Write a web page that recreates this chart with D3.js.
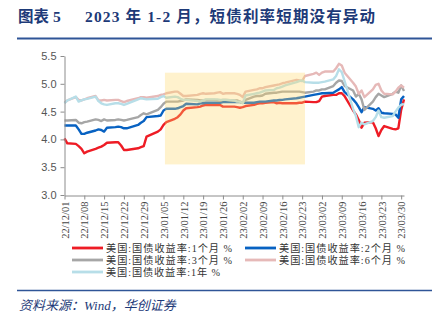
<!DOCTYPE html>
<html>
<head>
<meta charset="utf-8">
<script src="https://cdn.jsdelivr.net/npm/d3@7/dist/d3.min.js"></script>
<style>
  html, body { margin: 0; padding: 0; background: #fff; }
  svg { display: block; }
</style>
</head>
<body>
<svg id="chart" width="438" height="323"></svg>
<script>
// US Treasury yields (%), trading days 2022-12-01 .. 2023-03-31
const dates = [
  "2022-12-01","2022-12-02","2022-12-05","2022-12-06","2022-12-07","2022-12-08","2022-12-09",
  "2022-12-12","2022-12-13","2022-12-14","2022-12-15","2022-12-16","2022-12-19","2022-12-20",
  "2022-12-21","2022-12-22","2022-12-23","2022-12-27","2022-12-28","2022-12-29","2022-12-30",
  "2023-01-03","2023-01-04","2023-01-05","2023-01-06","2023-01-09","2023-01-10","2023-01-11",
  "2023-01-12","2023-01-13","2023-01-17","2023-01-18","2023-01-19","2023-01-20","2023-01-23",
  "2023-01-24","2023-01-25","2023-01-26","2023-01-27","2023-01-30","2023-01-31",
  "2023-02-01","2023-02-02","2023-02-03","2023-02-06","2023-02-07","2023-02-08","2023-02-09",
  "2023-02-10","2023-02-13","2023-02-14","2023-02-15","2023-02-16","2023-02-17","2023-02-21",
  "2023-02-22","2023-02-23","2023-02-24","2023-02-27","2023-02-28",
  "2023-03-01","2023-03-02","2023-03-03","2023-03-06","2023-03-07","2023-03-08","2023-03-09",
  "2023-03-10","2023-03-13","2023-03-14","2023-03-15","2023-03-16","2023-03-17","2023-03-20",
  "2023-03-21","2023-03-22","2023-03-23","2023-03-24","2023-03-27","2023-03-28","2023-03-29",
  "2023-03-30","2023-03-31"
];

const yield1M = [
  4.02,3.93,3.92,3.88,3.83,3.75,3.78, 3.83,3.85,3.87,3.90,3.94,3.95,3.95,
  3.89,3.81,3.81,3.84,3.86,3.88,4.05,
  4.14,4.18,4.26,4.31,4.37,4.40,4.45, 4.52,4.56,4.58,4.59,4.61,4.62,4.62,
  4.62,4.62,4.59,4.59,4.59,4.58,
  4.57,4.58,4.60,4.62,4.64,4.65,4.65, 4.66,4.67,4.65,4.66,4.65,4.65,4.65,
  4.66,4.66,4.68,4.67,4.67,
  4.69,4.77,4.78,4.80,4.80,4.83,4.83, 4.78,4.52,4.45,4.35,4.21,4.30,4.31,
  4.20,4.06,4.17,4.24,4.19,4.18,4.20, 4.53,4.72
];

const yield2M = [
  4.25,4.25,4.25,4.18,4.10,4.10,4.12, 4.16,4.18,4.17,4.14,4.21,4.22,4.23,
  4.22,4.20,4.20,4.26,4.30,4.33,4.40,
  4.42,4.43,4.52,4.55,4.55,4.56,4.58, 4.60,4.64,4.63,4.65,4.65,4.66,4.66,
  4.66,4.66,4.67,4.67,4.67,4.67,
  4.67,4.66,4.66,4.66,4.67,4.68,4.68, 4.68,4.70,4.70,4.71,4.71,4.72,4.74,
  4.75,4.76,4.77,4.80,4.81,
  4.82,4.83,4.83,4.84,4.87,4.90,4.94, 4.85,4.72,4.66,4.58,4.49,4.58,4.55,
  4.52,4.56,4.48,4.47,4.46,4.45,4.39, 4.72,4.78
];

const yield3M = [
  4.34,4.34,4.35,4.30,4.29,4.31,4.32, 4.36,4.35,4.33,4.36,4.34,4.35,4.36,
  4.35,4.34,4.35,4.40,4.44,4.47,4.45,
  4.53,4.58,4.64,4.68,4.68,4.68,4.69, 4.70,4.72,4.71,4.70,4.70,4.71,4.71,
  4.70,4.70,4.71,4.71,4.70,4.70,
  4.68,4.66,4.71,4.77,4.78,4.78,4.79, 4.82,4.84,4.84,4.85,4.86,4.86,4.86,
  4.86,4.85,4.84,4.86,4.88,
  4.88,4.90,4.90,4.96,5.02,5.06,5.05, 4.96,4.88,4.77,4.82,4.72,4.53,4.68,
  4.76,4.82,4.79,4.76,4.82,4.86,4.84, 4.97,4.87
];

const yield6M = [
  4.66,4.70,4.76,4.71,4.70,4.72,4.74, 4.78,4.70,4.70,4.71,4.70,4.71,4.71,
  4.69,4.67,4.69,4.74,4.76,4.76,4.75,
  4.78,4.80,4.81,4.83,4.86,4.86,4.82, 4.78,4.78,4.80,4.82,4.83,4.82,4.83,
  4.84,4.85,4.82,4.83,4.83,4.82,
  4.80,4.76,4.86,4.89,4.90,4.92,4.92, 4.94,4.97,4.98,4.99,5.01,5.02,5.07,
  5.06,5.05,5.14,5.18,5.20,
  5.16,5.20,5.22,5.22,5.28,5.36,5.33, 5.20,5.02,4.95,4.82,4.88,4.76,4.90,
  4.98,5.00,4.88,4.82,4.81,4.86,4.93, 4.97,4.93
];

const yield1Y = [
  4.65,4.70,4.77,4.68,4.70,4.72,4.73, 4.77,4.69,4.65,4.63,4.62,4.65,4.65,
  4.64,4.62,4.64,4.72,4.74,4.73,4.72,
  4.73,4.76,4.78,4.75,4.77,4.76,4.73, 4.71,4.71,4.69,4.68,4.70,4.72,4.72,
  4.72,4.71,4.71,4.71,4.70,4.68,
  4.68,4.65,4.79,4.82,4.83,4.84,4.86, 4.88,4.89,4.92,4.93,4.95,4.97,5.03,
  5.05,5.06,5.03,5.02,5.02,
  5.02,5.03,5.04,5.08,5.14,5.26,5.21, 5.05,4.55,4.42,4.22,4.30,4.27,4.33,
  4.40,4.52,4.40,4.39,4.42,4.50,4.57, 4.62,4.64
];

const seriesNames = [
  "美国:国债收益率:1个月 %",
  "美国:国债收益率:2个月 %",
  "美国:国债收益率:3个月 %",
  "美国:国债收益率:6个月 %",
  "美国:国债收益率:1年 %"
];
const seriesColors = ["#ee1c25", "#0862c2", "#a6a6a6", "#e6b9b8", "#b7dee8"];

const xTickDates = [
  "2022-12-01","2022-12-08","2022-12-15","2022-12-22","2022-12-29","2023-01-05",
  "2023-01-12","2023-01-19","2023-01-26","2023-02-02","2023-02-09","2023-02-16",
  "2023-02-23","2023-03-02","2023-03-09","2023-03-16","2023-03-23","2023-03-30"
];
const yTicks = [3.0, 3.5, 4.0, 4.5, 5.0, 5.5];

// highlighted window: early Jan to late Feb
const highlightX = ["2023-01-05T12:00", "2023-02-24"];
const highlightY = [3.55, 5.2];

const titleLead = "图表 5";
const titleMain = "2023 年 1-2 月，短债利率短期没有异动";
const sourceText = "资料来源：Wind，华创证券";

// ---------------------------------------------------------------
const parse = d3.isoParse;
const svg = d3.select("#chart");
const navy = "#1d3a78";

const x = d3.scaleTime()
  .domain([parse("2022-12-01"), parse("2023-03-31")])
  .range([64.5, 404]);
const y = d3.scaleLinear().domain([3, 5.5]).range([195, 56]);

// title + rules
svg.append("text").attr("x", 18).attr("y", 22)
  .attr("font-family", "'Liberation Serif','Noto Sans CJK SC',serif")
  .attr("font-weight", "bold").attr("font-size", 15.5).attr("fill", navy)
  .text(titleLead);
svg.append("text").attr("x", 85).attr("y", 22)
  .attr("font-family", "'Liberation Serif','Noto Sans CJK SC',serif")
  .attr("font-weight", "bold").attr("font-size", 15.5).attr("fill", navy)
  .attr("textLength", 290).attr("lengthAdjust", "spacing")
  .text(titleMain);
svg.append("line").attr("x1", 17).attr("x2", 432).attr("y1", 38.5).attr("y2", 38.5)
  .attr("stroke", "#2f5597").attr("stroke-width", 2.2);
svg.append("line").attr("x1", 17).attr("x2", 432).attr("y1", 290.5).attr("y2", 290.5)
  .attr("stroke", "#2f5597").attr("stroke-width", 1.6);
svg.append("text").attr("x", 19).attr("y", 310)
  .attr("font-family", "'Liberation Serif','Noto Sans CJK SC',serif")
  .attr("font-style", "italic").attr("font-size", 13).attr("fill", navy)
  .text(sourceText);

// lines
const line = d3.line()
  .x(d => x(d.date))
  .y(d => y(d.value));

const allSeries = [yield1M, yield2M, yield3M, yield6M, yield1Y];
const plot = svg.append("g");
allSeries.forEach((vals, i) => {
  const pts = dates.map((d, k) => ({ date: parse(d), value: vals[k] }));
  plot.append("path")
    .datum(pts)
    .attr("fill", "none")
    .attr("stroke", seriesColors[i])
    .attr("stroke-width", 2.4)
    .attr("stroke-linejoin", "round")
    .attr("d", line);
});

// translucent highlight box over the lines
svg.append("rect")
  .attr("x", x(parse(highlightX[0])))
  .attr("width", x(parse(highlightX[1])) - x(parse(highlightX[0])))
  .attr("y", y(highlightY[1]))
  .attr("height", y(highlightY[0]) - y(highlightY[1]))
  .attr("fill", "#ffd966")
  .attr("fill-opacity", 0.33);

// axes
const axisColor = "#8c8c8c";
const yAxis = svg.append("g").attr("transform", "translate(64.5,0)")
  .call(d3.axisLeft(y).tickValues(yTicks).tickFormat(d3.format(".1f")).tickSize(4).tickSizeOuter(0));
yAxis.select(".domain").attr("stroke", axisColor);
yAxis.selectAll(".tick line").attr("stroke", axisColor);
yAxis.selectAll(".tick text")
  .attr("font-family", "'Liberation Sans',Arial,sans-serif")
  .attr("font-size", 11).attr("fill", "#555").attr("x", -8);

const fmt = d3.timeFormat("%y/%m/%d");
const xAxis = svg.append("g").attr("transform", "translate(0,195.5)")
  .call(d3.axisBottom(x).tickValues(xTickDates.map(parse)).tickFormat(fmt).tickSize(4).tickSizeOuter(0));
xAxis.select(".domain").attr("stroke", axisColor);
xAxis.selectAll(".tick line").attr("stroke", axisColor);
xAxis.selectAll(".tick text")
  .attr("font-family", "'Liberation Serif','Times New Roman',serif")
  .attr("font-size", 10.5).attr("fill", "#444")
  .attr("transform", "rotate(-90)")
  .attr("x", -6).attr("y", 0).attr("dy", "0.35em")
  .style("text-anchor", "end");

// legend (two columns, three rows)
const legendPos = [
  { lx: 72, ty: 248 }, { lx: 245, ty: 248 },
  { lx: 72, ty: 260 }, { lx: 245, ty: 260 },
  { lx: 72, ty: 272 }
];
const legendLen = [126, 126, 126, 126, 114];
const legend = svg.append("g");
seriesNames.forEach((name, i) => {
  const p = legendPos[i];
  legend.append("line")
    .attr("x1", p.lx).attr("x2", p.lx + 31)
    .attr("y1", p.ty).attr("y2", p.ty)
    .attr("stroke", seriesColors[i]).attr("stroke-width", 2.8);
  legend.append("text")
    .attr("x", p.lx + 34).attr("y", p.ty + 3.8)
    .attr("font-family", "'Liberation Serif','Noto Sans CJK SC',serif")
    .attr("font-size", 10.2).attr("fill", "#333")
    .attr("textLength", legendLen[i]).attr("lengthAdjust", "spacing")
    .text(name);
});
</script>
</body>
</html>
